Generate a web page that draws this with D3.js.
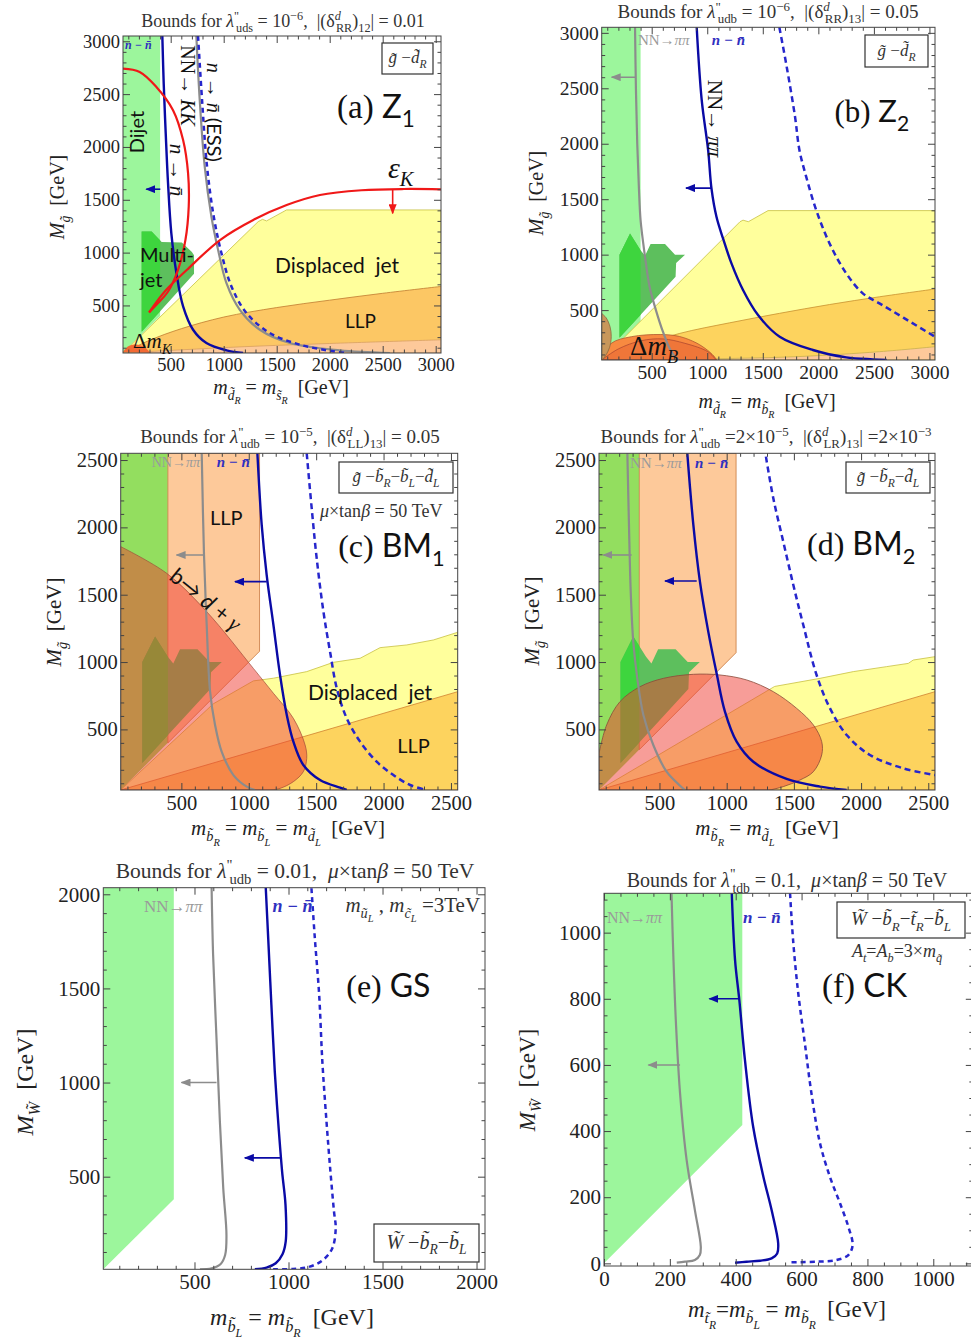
<!DOCTYPE html>
<html>
<head>
<meta charset="utf-8">
<script src="https://cdn.jsdelivr.net/npm/d3@7"></script>
<style>
  body { margin: 0; background: #fff; }
  svg { display: block; }
  text { white-space: pre; }
</style>
</head>
<body>
<div id="chart"></div>
<script>
// ---------- values (GeV) ----------
const ticks3000 = [500, 1000, 1500, 2000, 2500, 3000];
const ticks2500 = [500, 1000, 1500, 2000, 2500];
const ticks2000 = [500, 1000, 1500, 2000];
const ticks1000 = [0, 200, 400, 600, 800, 1000];

// (a) Z1
const aGreen = [[50, 50], [50, 3050], [400, 3050], [400, 400]];
const aMultijet = [[226, 250], [226, 1200], [320, 1200], [415, 1100], [605, 1095], [700, 1005], [720, 975], [720, 800]];
const aYellow = [[50, 50], [1325, 1293], [1366, 1315], [1404, 1300], [1593, 1404], [3050, 1404], [3050, 50]];
const aLLP = [[50, 50], [300, 170], [600, 280], [1000, 390], [1500, 480], [2000, 550], [2500, 615], [3050, 680], [3050, 50]];
const aPeach = [[50, 50], [600, 80], [1200, 110], [2000, 140], [3050, 175], [3050, 50]];
const aDeltaMK = [[50, 60], [100, 115], [180, 130], [260, 100], [310, 50]];
const aBlue = [[421, 3050], [434, 2600], [453, 2128], [475, 1655], [506, 1183], [554, 806], [617, 491], [711, 270], [837, 144], [1026, 75], [1183, 50]];
const aGray = [[742, 3050], [774, 2442], [821, 1813], [884, 1341], [947, 1026], [1026, 711], [1152, 459], [1341, 270], [1624, 144], [2096, 75], [2568, 50]];
const aDashed = [[758, 3050], [796, 2442], [843, 1813], [906, 1341], [979, 994], [1073, 680], [1215, 428], [1435, 239], [1718, 129], [2033, 66], [2159, 50]];
const aRedLoop = [[50, 2741], [207, 2710], [365, 2568], [522, 2348], [617, 2065], [664, 1750], [670, 1435], [639, 1120], [569, 837], [475, 632], [365, 506], [296, 434]];
const aRedEps = [[296, 434], [450, 640], [651, 835], [965, 1119], [1279, 1309], [1594, 1450], [1908, 1545], [2300, 1590], [2700, 1602], [3050, 1599]];
const aArrowBlue = [402, 270, 1600];
const aArrowRed = [2594, 1599, 1372];

// (b) Z2
const bGreen = [[50, 50], [50, 3050], [400, 3050], [400, 400]];
const multijet = [[210, 250], [210, 1000], [305, 1190], [400, 1040], [440, 990], [490, 1095], [620, 1095], [710, 1000], [800, 1000], [720, 925], [715, 800]];
const bYellow = [[50, 50], [1295, 1297], [1322, 1311], [1370, 1297], [1547, 1397], [3050, 1397], [3050, 50]];
const bLLP = [[50, 50], [400, 180], [753, 290], [1200, 385], [1652, 471], [2100, 550], [2550, 620], [3050, 690], [3050, 50]];
const bPeach = [[50, 50], [1000, 60], [1800, 80], [2550, 125], [3050, 170], [3050, 50]];
const bDeltaMB = [[50, 55], [136, 200], [316, 260], [583, 280], [750, 262], [900, 205], [1000, 140], [1060, 85], [1085, 50]];
const bDeltaMBInner = [[50, 50], [200, 150], [406, 224], [600, 240], [800, 200], [1005, 125], [1080, 50]];
const bTan = [[50, 470], [90, 430], [125, 350], [136, 260], [120, 160], [85, 90], [55, 50], [50, 50]];
const bGray = [[350, 3050], [358, 2500], [370, 2000], [385, 1600], [400, 1310], [436, 1011], [481, 710], [538, 500], [601, 305], [661, 155], [720, 65], [740, 50]];
const bBlue = [[905, 3050], [950, 2395], [1008, 1942], [1038, 1597], [1083, 1341], [1142, 1146], [1218, 921], [1322, 681], [1457, 455], [1652, 260], [1951, 140], [2251, 74], [2490, 56], [2615, 50]];
const bDashed = [[1649, 3050], [1715, 2695], [1790, 2244], [1830, 1942], [1891, 1701], [1981, 1401], [2101, 1101], [2251, 831], [2400, 651], [2550, 561], [2765, 432], [3050, 260]];
const bArrowGray = [359, 140, 2600];
const bArrowBlue = [1040, 809, 1600];

// (c) BM1
const cGreen = [[50, 50], [50, 2550], [400, 2550], [400, 400]];
const cPeach = [[400, 2550], [1080, 2550], [1080, 1080], [400, 400]];
const cYellow = [[50, 50], [737, 690], [1034, 860], [1183, 880], [1430, 929], [1628, 998], [1826, 1028], [1974, 1107], [2172, 1127], [2370, 1164], [2550, 1221], [2550, 50]];
const cLLP = [[50, 50], [2550, 780], [2550, 50]];
const cRed = [[50, 1857], [391, 1659], [688, 1374], [1034, 953], [1183, 768], [1331, 582], [1418, 384], [1430, 285], [1405, 186], [1331, 112], [1232, 62], [1158, 50], [50, 50]];
const cGray = [[651, 2550], [668, 1795], [688, 1275], [713, 780], [750, 533], [799, 335], [886, 161], [985, 75], [1047, 50]];
const cBlue = [[1064, 2550], [1096, 2018], [1133, 1646], [1183, 1275], [1232, 904], [1282, 607], [1331, 409], [1405, 236], [1529, 124], [1677, 67], [1727, 50]];
const cDashed = [[1430, 2550], [1467, 2141], [1504, 1770], [1554, 1374], [1603, 1077], [1653, 805], [1727, 582], [1826, 409], [1949, 260], [2073, 161], [2197, 87], [2320, 50]];
const cArrowGray = [668, 465, 1795];
const cArrowBlue = [1133, 898, 1597];

// (d) BM2
const dGreen = [[50, 50], [50, 2550], [350, 2550], [350, 350]];
const dPeach = [[350, 2550], [1070, 2550], [1070, 1070], [350, 350]];
const dYellow = [[50, 50], [1357, 819], [1694, 879], [1942, 929], [2190, 966], [2351, 990], [2388, 1015], [2550, 1040], [2550, 50]];
const dLLP = [[50, 50], [2550, 780], [2550, 50]];
const dRed = [[50, 322], [107, 533], [206, 706], [355, 817], [529, 879], [752, 909], [950, 904], [1149, 867], [1347, 780], [1521, 656], [1645, 533], [1707, 409], [1707, 310], [1645, 186], [1545, 124], [1421, 75], [1322, 50], [50, 50]];
const dGray = [[261, 2550], [273, 2018], [286, 1523], [305, 1151], [335, 879], [380, 607], [454, 384], [553, 186], [653, 82], [690, 50]];
const dBlue = [[707, 2550], [752, 2018], [801, 1597], [863, 1226], [925, 916], [987, 632], [1074, 409], [1198, 260], [1446, 132], [1694, 75], [1893, 50]];
const dDashed = [[1292, 2525], [1347, 2216], [1421, 1894], [1496, 1572], [1570, 1275], [1669, 904], [1769, 656], [1893, 458], [2066, 310], [2314, 211], [2550, 161]];
const dArrowGray = [293, 82, 1795];
const dArrowBlue = [777, 541, 1602];

// (e) GS
const eGreen = [[15, 8], [15, 2035], [390, 2035], [390, 380]];
const eGray = [[591, 2035], [599, 1678], [617, 1235], [635, 793], [653, 438], [670, 190], [663, 84], [638, 35], [591, 13], [529, 8]];
const eBlue = [[879, 2035], [892, 1767], [909, 1412], [927, 1058], [945, 793], [966, 527], [984, 350], [985, 155], [968, 88], [932, 40], [883, 17], [821, 8]];
const eDashed = [[1122, 2032], [1140, 1767], [1163, 1466], [1180, 1111], [1202, 793], [1223, 527], [1242, 314], [1251, 226], [1233, 120], [1184, 58], [1113, 22], [1024, 10], [918, 8]];
const eArrowGray = [617, 431, 1000];
const eArrowBlue = [959, 768, 600];

// (f) CK
const fGreen = [[0, 0], [0, 1120], [420, 1120], [420, 418]];
const fGray = [[205, 1119], [211, 917], [219, 716], [231, 514], [251, 312], [276, 161], [294, 50], [291, 25], [276, 10], [246, 5], [221, 2]];
const fBlue = [[388, 1119], [398, 917], [411, 796], [428, 615], [453, 413], [484, 262], [509, 161], [529, 60], [526, 30], [509, 15], [474, 8], [433, 5], [398, 2]];
const fDashed = [[565, 1119], [575, 968], [590, 816], [610, 665], [630, 514], [656, 363], [686, 262], [717, 181], [742, 111], [755, 55], [742, 25], [706, 10], [646, 5], [565, 3]];
const fArrowGray = [231, 135, 600];
const fArrowBlue = [411, 320, 800];

// ---------- styles ----------
const SERIF = "'Liberation Serif','DejaVu Serif',serif";
const SANS = "Lato,'Liberation Sans',sans-serif";
const GREEN = "#9cf69c", GREEN2 = "#93de5f", MJ = "#5dbf5d", MJ_IN = "#3ed53e";
const YELLOW = "#ffff9c", GOLD = "#fdd35e", PEACH = "#fdc99a";
const GRAY = "#8c8c8c", BLUE = "#0a0aa5", BLUED = "#2626cc", RED = "#f01818";

const svg = d3.select("#chart").append("svg").attr("width", 971).attr("height", 1342);
const defs = svg.append("defs");

[["gray", GRAY], ["blue", BLUE], ["red", RED]].forEach(([k, c]) => {
  defs.append("marker").attr("id", "ah-" + k)
    .attr("viewBox", "0 0 10 8").attr("refX", 9).attr("refY", 4)
    .attr("markerWidth", 10).attr("markerHeight", 8)
    .attr("markerUnits", "userSpaceOnUse").attr("orient", "auto")
    .append("path").attr("d", "M0,0L10,4L0,8Z").attr("fill", c);
});

function rich(g, px, py, parts, o = {}) {
  const fs = o.size || 16;
  const t = g.append("text").attr("x", px).attr("y", py)
    .attr("font-family", o.font || SERIF).attr("font-size", fs)
    .attr("fill", o.fill || "#111").attr("text-anchor", o.anchor || "start");
  if (o.rotate) t.attr("transform", `rotate(${o.rotate},${px},${py})`);
  let cur = 0;
  parts.forEach(p => {
    const [s, f] = Array.isArray(p) ? [p[0], p[1] || ""] : [p, ""];
    const lvl = (f.match(/_/g) || []).length;
    const sup = f.includes("^");
    const off = sup ? -0.38 * fs : lvl === 1 ? 0.28 * fs : lvl === 2 ? 0.5 * fs : 0;
    const size = sup || lvl === 1 ? 0.68 * fs : lvl === 2 ? 0.5 * fs : fs;
    const ts = t.append("tspan").text(s).attr("dy", off - cur).attr("font-size", size);
    cur = off;
    if (f.includes("i")) ts.attr("font-style", "italic");
    if (f.includes("b")) ts.attr("font-weight", "bold");
    if (f.includes("s")) ts.attr("font-family", SANS);
    const m = f.match(/<(\d+)/);
    if (m) ts.attr("dx", -m[1]);
  });
  return t;
}

function region(g, x, y, pts, fill, o = {}) {
  const n = o.curved || 0;
  let d;
  if (n > 1) {
    d = d3.line().x(p => x(p[0])).y(p => y(p[1])).curve(d3.curveCatmullRom.alpha(0.5))(pts.slice(0, n))
      + pts.slice(n).map(p => `L${x(p[0])},${y(p[1])}`).join("") + "Z";
  } else {
    d = d3.line().x(p => x(p[0])).y(p => y(p[1])).curve(d3.curveLinearClosed)(pts);
  }
  return g.append("path").attr("d", d).attr("fill", fill)
    .attr("fill-opacity", o.op ?? 1)
    .attr("stroke", o.stroke || "none").attr("stroke-width", o.sw || 0.8);
}

function curve(g, x, y, pts, color, w, dash) {
  g.append("path")
    .attr("d", d3.line().x(p => x(p[0])).y(p => y(p[1])).curve(d3.curveCatmullRom.alpha(0.5))(pts))
    .attr("fill", "none").attr("stroke", color).attr("stroke-width", w)
    .attr("stroke-dasharray", dash || null).attr("stroke-linejoin", "round");
}

function arrowH(g, x, y, [x1, x2, yy], color, key) {
  g.append("line").attr("x1", x(x1)).attr("x2", x(x2)).attr("y1", y(yy)).attr("y2", y(yy))
    .attr("stroke", color).attr("stroke-width", 1.6).attr("marker-end", `url(#ah-${key})`);
}

function arrowV(g, x, y, [xx, y1, y2], color, key) {
  g.append("line").attr("x1", x(xx)).attr("x2", x(xx)).attr("y1", y(y1)).attr("y2", y(y2))
    .attr("stroke", color).attr("stroke-width", 1.6).attr("marker-end", `url(#ah-${key})`);
}

function colClip(id, x, y, pts) {
  const cid = "col-" + id;
  defs.append("clipPath").attr("id", cid).append("path")
    .attr("d", d3.line().x(p => x(p[0])).y(p => y(p[1])).curve(d3.curveLinearClosed)(pts));
  return `url(#${cid})`;
}

function box(g, [x0, y0, x1, y1], parts, size) {
  g.append("rect").attr("x", x0).attr("y", y0).attr("width", x1 - x0).attr("height", y1 - y0)
    .attr("fill", "#fff").attr("stroke", "#333").attr("stroke-width", 1.2);
  rich(g, (x0 + x1) / 2, (y0 + y1) / 2 + size * 0.28, parts, { size, anchor: "middle", fill: "#333" });
}

const nnbar = [["n − n\u0304", "bi"]];
const nnpipi = ["NN→", ["ππ", "i"]];

function drawA(g, x, y, top) {
  region(g, x, y, aGreen, GREEN);
  region(g, x, y, aMultijet, MJ);
  region(g, x, y, aMultijet, MJ_IN).attr("clip-path", colClip("a", x, y, aGreen));
  region(g, x, y, aYellow, YELLOW, { stroke: "#c8c040" });
  region(g, x, y, aLLP, "#fcc764", { stroke: "#c07a30", curved: 8 });
  region(g, x, y, aPeach, PEACH, { stroke: "#d8a060", curved: 5 });
  region(g, x, y, aDeltaMK, "#f36a34", { curved: 5 });
  curve(g, x, y, aGray, GRAY, 2.2);
  curve(g, x, y, aDashed, BLUED, 2.5, "5,4");
  curve(g, x, y, aBlue, BLUE, 2.4);
  curve(g, x, y, aRedLoop, RED, 2.2);
  curve(g, x, y, aRedEps, RED, 2.2);
  arrowH(g, x, y, aArrowBlue, BLUE, "blue");
  arrowV(g, x, y, aArrowRed, RED, "red");
  rich(top, x(70), y(2930), nnbar, { size: 12, fill: "#3030c0" });
  rich(top, x(250), y(2141), [["Dijet", "s"]], { size: 20, anchor: "middle", rotate: -90 });
  rich(top, x(597), y(2580), ["NN→ ", ["KK", "i"]], { size: 20, anchor: "middle", rotate: 90 });
  rich(top, x(842), y(2328), [["n", "i"], " → ", ["n\u0304", "i"], [" (ESS)", "s"]], { size: 20, anchor: "middle", rotate: 90 });
  rich(top, x(493), y(1781), [["n", "i"], " → ", ["n\u0304", "i"]], { size: 21, anchor: "middle", rotate: 90 });
  rich(top, x(2550), y(1706), [["ε", "i"], ["K", "_i"]], { size: 30 });
  rich(top, x(2069), y(2274), ["(a) ", ["Z", "s"], ["1", "_s"]], { size: 33 });
  rich(top, x(210), y(911), [["Multi-", "s"]], { size: 20 });
  rich(top, x(210), y(675), [["jet", "s"]], { size: 20 });
  rich(top, x(1484), y(807), [["Displaced  jet", "s"]], { size: 21 });
  rich(top, x(2144), y(287), [["LLP", "s"]], { size: 19 });
  rich(top, x(144), y(100), ["Δ", ["m", "i"], ["K", "_i"]], { size: 21 });
  box(top, [382, 43, 433, 74], [["g\u0303", "i"], " −", ["d\u0303", "i"], ["R", "_i"]], 17);
}

function drawB(g, x, y, top) {
  region(g, x, y, bGreen, GREEN);
  region(g, x, y, multijet, MJ);
  region(g, x, y, multijet, MJ_IN).attr("clip-path", colClip("b", x, y, bGreen));
  region(g, x, y, bYellow, YELLOW, { stroke: "#c8c040" });
  region(g, x, y, bLLP, GOLD, { stroke: "#c89030", curved: 8 });
  region(g, x, y, bPeach, PEACH, { stroke: "#c8b050", curved: 5 });
  region(g, x, y, bDeltaMB, "#f88a40", { stroke: "#b05a30", curved: bDeltaMB.length });
  region(g, x, y, bDeltaMBInner, "#e0502e", { op: 0.35, stroke: "#b04a30", curved: bDeltaMBInner.length });
  region(g, x, y, bTan, "#c8975b", { stroke: "#8a6a40", curved: 7 });
  curve(g, x, y, bGray, GRAY, 2.2);
  curve(g, x, y, bDashed, BLUED, 2.5, "6,4");
  curve(g, x, y, bBlue, BLUE, 2.4);
  arrowH(g, x, y, bArrowGray, GRAY, "gray");
  arrowH(g, x, y, bArrowBlue, BLUE, "blue");
  rich(top, x(376), y(2888), nnpipi, { size: 15, fill: "#9a9a9a" });
  rich(top, x(1041), y(2888), nnbar, { size: 15, fill: "#3030c0" });
  rich(top, x(1005), y(2227), ["NN→ ", ["ππ", "i"]], { size: 21, anchor: "middle", rotate: 90 });
  rich(top, x(2145), y(2194), ["(b) ", ["Z", "s"], ["2", "_s"]], { size: 31 });
  rich(top, x(305), y(95), ["Δ", ["m", "i"], ["B", "_i"]], { size: 27 });
  box(top, [865, 35, 928, 67], [["g\u0303", "i"], " −", ["d\u0303", "i"], ["R", "_i"]], 17);
}

function drawC(g, x, y, top) {
  region(g, x, y, cGreen, GREEN2);
  region(g, x, y, cPeach, PEACH, { stroke: "#c87a40" });
  region(g, x, y, multijet, MJ);
  region(g, x, y, multijet, MJ_IN).attr("clip-path", colClip("c", x, y, cGreen));
  region(g, x, y, cYellow, YELLOW, { stroke: "#c8c040" });
  region(g, x, y, cLLP, GOLD, { stroke: "#d08030" });
  region(g, x, y, cRed, "rgb(240,60,50)", { op: 0.5, stroke: "#a04a3a", sw: 0.7, curved: 12 });
  curve(g, x, y, cGray, GRAY, 2.2);
  curve(g, x, y, cDashed, BLUED, 2.5, "6,4");
  curve(g, x, y, cBlue, BLUE, 2.4);
  arrowH(g, x, y, cArrowGray, GRAY, "gray");
  arrowH(g, x, y, cArrowBlue, BLUE, "blue");
  rich(top, x(280), y(2448), nnpipi, { size: 14, fill: "#9a9a9a" });
  rich(top, x(762), y(2448), nnbar, { size: 15, fill: "#3030c0" });
  rich(top, x(712), y(2018), [["LLP", "s"]], { size: 20 });
  rich(top, x(643), y(1421), [["b→ ", "s"], ["d", "si"], [" + ", "s"], ["γ", "i"]], { size: 22, anchor: "middle", rotate: 39 });
  rich(top, x(1440), y(718), [["Displaced  jet", "s"]], { size: 21 });
  rich(top, x(2102), y(325), [["LLP", "s"]], { size: 20 });
  rich(top, x(1528), y(2077), [["μ", "i"], "×tan", ["β", "i"], " = 50 TeV"], { size: 18, fill: "#333" });
  rich(top, x(1663), y(1780), ["(c) ", ["BM", "s"], ["1", "_s"]], { size: 32 });
  box(top, [339, 462, 453, 493], [["g\u0303", "i"], " −", ["b\u0303", "i"], ["R", "_i"], "−", ["b\u0303", "i"], ["L", "_i"], "−", ["d\u0303", "i"], ["L", "_i"]], 17);
}

function drawD(g, x, y, top) {
  region(g, x, y, dGreen, GREEN2);
  region(g, x, y, dPeach, PEACH, { stroke: "#c87a40" });
  region(g, x, y, multijet, MJ);
  region(g, x, y, multijet, MJ_IN).attr("clip-path", colClip("d", x, y, dGreen));
  region(g, x, y, dYellow, YELLOW, { stroke: "#c8c040" });
  region(g, x, y, dLLP, GOLD, { stroke: "#d08030" });
  region(g, x, y, dRed, "rgb(240,60,50)", { op: 0.5, stroke: "#8a4a3a", sw: 0.8, curved: 17 });
  curve(g, x, y, dGray, GRAY, 2.2);
  curve(g, x, y, dDashed, BLUED, 2.5, "6,4");
  curve(g, x, y, dBlue, BLUE, 2.4);
  arrowH(g, x, y, dArrowGray, GRAY, "gray");
  arrowH(g, x, y, dArrowBlue, BLUE, "blue");
  rich(top, x(281), y(2440), nnpipi, { size: 15, fill: "#9a9a9a" });
  rich(top, x(764), y(2440), nnbar, { size: 15, fill: "#3030c0" });
  rich(top, x(1598), y(1795), ["(d) ", ["BM", "s"], ["2", "_s"]], { size: 32 });
  box(top, [846, 462, 930, 493], [["g\u0303", "i"], " −", ["b\u0303", "i"], ["R", "_i"], "−", ["d\u0303", "i"], ["L", "_i"]], 17);
}

function drawE(g, x, y, top) {
  region(g, x, y, eGreen, GREEN);
  curve(g, x, y, eGray, GRAY, 2.2);
  curve(g, x, y, eDashed, BLUED, 2.5, "5,4");
  curve(g, x, y, eBlue, BLUE, 2.4);
  arrowH(g, x, y, eArrowGray, GRAY, "gray");
  arrowH(g, x, y, eArrowBlue, BLUE, "blue");
  rich(top, x(231), y(1907), nnpipi, { size: 17, fill: "#9a9a9a" });
  rich(top, x(915), y(1907), nnbar, { size: 18, fill: "#3030c0" });
  rich(top, x(2019), y(1907), [["m", "i"], ["u\u0303", "_i"], ["L", "__i"], " , ", ["m", "i"], ["c\u0303", "_i"], ["L", "__i"], " =3TeV"], { size: 21, anchor: "end", fill: "#333" });
  rich(top, x(1307), y(1455), ["(e) ", ["GS", "s"]], { size: 32 });
  box(top, [374, 1224, 479, 1262], [["W\u0303", "i"], " −", ["b\u0303", "i"], ["R", "_i"], "−", ["b\u0303", "i"], ["L", "_i"]], 20);
}

function drawF(g, x, y, top) {
  region(g, x, y, fGreen, GREEN);
  curve(g, x, y, fGray, GRAY, 2.2);
  curve(g, x, y, fDashed, BLUED, 2.5, "5,4");
  curve(g, x, y, fBlue, BLUE, 2.4);
  arrowH(g, x, y, fArrowGray, GRAY, "gray");
  arrowH(g, x, y, fArrowBlue, BLUE, "blue");
  rich(top, x(9), y(1029), nnpipi, { size: 16, fill: "#9a9a9a" });
  rich(top, x(422), y(1029), nnbar, { size: 17, fill: "#3030c0" });
  rich(top, x(753), y(925), [["A", "i"], ["t", "_i"], "=", ["A", "i"], ["b", "_i"], "=3×", ["m", "i"], ["q\u0303", "_i"]], { size: 18, fill: "#333" });
  rich(top, x(662), y(805), ["(f) ", ["CK", "s"]], { size: 33 });
  box(top, [837, 902, 965, 938], [["W\u0303", "i"], " −", ["b\u0303", "i"], ["R", "_i"], "−", ["t\u0303", "i"], ["R", "_i"], "−", ["b\u0303", "i"], ["L", "_i"]], 19);
}

const mLab = (a, b) => [["m", "i"], [a + "\u0303", "_i"], [b, "__i"]];
const Mg = [["M", "i"], ["g\u0303", "_i"], "  [GeV]"];
const MW = [["M", "i"], ["W\u0303", "_i"], "  [GeV]"];
const lam = sub => ["Bounds for ", ["λ", "i"], ['"', "^"], [sub, "_<3"]];

const panels = [
  { id: "a", frame: [123, 441, 36, 353], xd: [50, 3050], yd: [50, 3050], xt: ticks3000, yt: ticks3000, minor: 100, fs: 18.5, draw: drawA,
    title: [283, 27, 18, [...lam("uds"), " = 10", ["−6", "^"], ",  |(δ", ["d", "^i"], ["RR", "_<5"], ")", ["12", "_"], "| = 0.01"]],
    xlab: [281, 394, 20, [...mLab("d", "R"), " = ", ...mLab("s", "R"), "  [GeV]"]], ylab: [64, 197, 20, Mg] },
  { id: "b", frame: [601.7, 935, 27.3, 360], xd: [50, 3050], yd: [50, 3050], xt: ticks3000, yt: ticks3000, minor: 100, fs: 19.5, draw: drawB,
    title: [768, 18, 19, [...lam("udb"), " = 10", ["−6", "^"], ",  |(δ", ["d", "^i"], ["RR", "_<5"], ")", ["13", "_"], "| = 0.05"]],
    xlab: [767, 408, 20, [...mLab("d", "R"), " = ", ...mLab("b", "R"), "  [GeV]"]], ylab: [543, 193, 20, Mg] },
  { id: "c", frame: [120.7, 457.7, 453.3, 790], xd: [50, 2550], yd: [50, 2550], xt: ticks2500, yt: ticks2500, minor: 100, fs: 20.5, draw: drawC,
    title: [290, 443, 19, [...lam("udb"), " = 10", ["−5", "^"], ",  |(δ", ["d", "^i"], ["LL", "_<5"], ")", ["13", "_"], "| = 0.05"]],
    xlab: [288, 835, 21, [...mLab("b", "R"), " = ", ...mLab("b", "L"), " = ", ...mLab("d", "L"), "  [GeV]"]], ylab: [61, 622, 21, Mg] },
  { id: "d", frame: [599, 935, 453.3, 790], xd: [50, 2550], yd: [50, 2550], xt: ticks2500, yt: ticks2500, minor: 100, fs: 20.5, draw: drawD,
    title: [766, 443, 19, [...lam("udb"), " =2×10", ["−5", "^"], ",  |(δ", ["d", "^i"], ["LR", "_<5"], ")", ["13", "_"], "| =2×10", ["−3", "^"]]],
    xlab: [767, 835, 21, [...mLab("b", "R"), " = ", ...mLab("d", "L"), "  [GeV]"]], ylab: [539, 621, 21, Mg] },
  { id: "e", frame: [103.3, 485, 887.7, 1269.3], xd: [15, 2045], yd: [8, 2035], xt: ticks2000, yt: ticks2000, minor: 100, fs: 21, draw: drawE,
    title: [295, 878, 21.5, [...lam("udb"), " = 0.01,  ", ["μ", "i"], "×tan", ["β", "i"], " = 50 TeV"]],
    xlab: [292, 1325, 24, [...mLab("b", "L"), " = ", ...mLab("b", "R"), "  [GeV]"]], ylab: [33, 1082, 24, MW] },
  { id: "f", frame: [604, 972.8, 893.3, 1266], xd: [0, 1120], yd: [-8, 1119], xt: ticks1000, yt: ticks1000, minor: 50, fs: 21, draw: drawF,
    title: [787, 887, 20, [...lam("tdb"), " = 0.1,  ", ["μ", "i"], "×tan", ["β", "i"], " = 50 TeV"]],
    xlab: [787, 1317, 23, [...mLab("t", "R"), "=", ...mLab("b", "L"), " = ", ...mLab("b", "R"), "  [GeV]"]], ylab: [535, 1080, 23, MW] }
];

function axes(g, p, x, y) {
  const [l, r, t, b] = p.frame;
  const style = sel => {
    sel.select(".domain").remove();
    sel.selectAll("line").attr("stroke", "#444");
    sel.selectAll("text").attr("font-family", SERIF).attr("font-size", p.fs).attr("fill", "#222");
  };
  const minorOf = (dom, major) => d3.range(Math.ceil(dom[0] / p.minor) * p.minor, dom[1], p.minor).filter(v => !major.includes(v));
  const mx = minorOf(p.xd, p.xt), my = minorOf(p.yd, p.yt);
  const fmt = d3.format("d");
  const at = (tr, ax) => g.append("g").attr("transform", tr).call(ax).call(style);
  at(`translate(0,${b})`, d3.axisBottom(x).tickValues(p.xt).tickSize(-7).tickPadding(5).tickFormat(fmt));
  at(`translate(0,${b})`, d3.axisBottom(x).tickValues(mx).tickSize(-3.5).tickFormat(""));
  at(`translate(0,${t})`, d3.axisTop(x).tickValues(p.xt).tickSize(-7).tickFormat(""));
  at(`translate(0,${t})`, d3.axisTop(x).tickValues(mx).tickSize(-3.5).tickFormat(""));
  at(`translate(${l},0)`, d3.axisLeft(y).tickValues(p.yt).tickSize(-7).tickPadding(3).tickFormat(fmt));
  at(`translate(${l},0)`, d3.axisLeft(y).tickValues(my).tickSize(-3.5).tickFormat(""));
  at(`translate(${r},0)`, d3.axisRight(y).tickValues(p.yt).tickSize(-7).tickFormat(""));
  at(`translate(${r},0)`, d3.axisRight(y).tickValues(my).tickSize(-3.5).tickFormat(""));
  g.append("rect").attr("x", l).attr("y", t).attr("width", r - l).attr("height", b - t)
    .attr("fill", "none").attr("stroke", "#444").attr("stroke-width", 1);
}

panels.forEach(p => {
  const [l, r, t, b] = p.frame;
  const x = d3.scaleLinear().domain(p.xd).range([l, r]);
  const y = d3.scaleLinear().domain(p.yd).range([b, t]);
  const g = svg.append("g").attr("class", "panel-" + p.id);
  defs.append("clipPath").attr("id", "clip-" + p.id)
    .append("rect").attr("x", l).attr("y", t).attr("width", r - l).attr("height", b - t);
  const plot = g.append("g").attr("clip-path", `url(#clip-${p.id})`);
  const top = g.append("g");
  p.draw(plot, x, y, top);
  axes(g, p, x, y);
  top.raise();
  const [tx, ty, ts, tp] = p.title;
  rich(g, tx, ty, tp, { size: ts, anchor: "middle", fill: "#333" });
  const [xx, xy, xs, xp] = p.xlab;
  rich(g, xx, xy, xp, { size: xs, anchor: "middle", fill: "#222" });
  const [yx, yy, ys, yp] = p.ylab;
  rich(g, yx, yy, yp, { size: ys, anchor: "middle", fill: "#222", rotate: -90 });
});
</script>
</body>
</html>
